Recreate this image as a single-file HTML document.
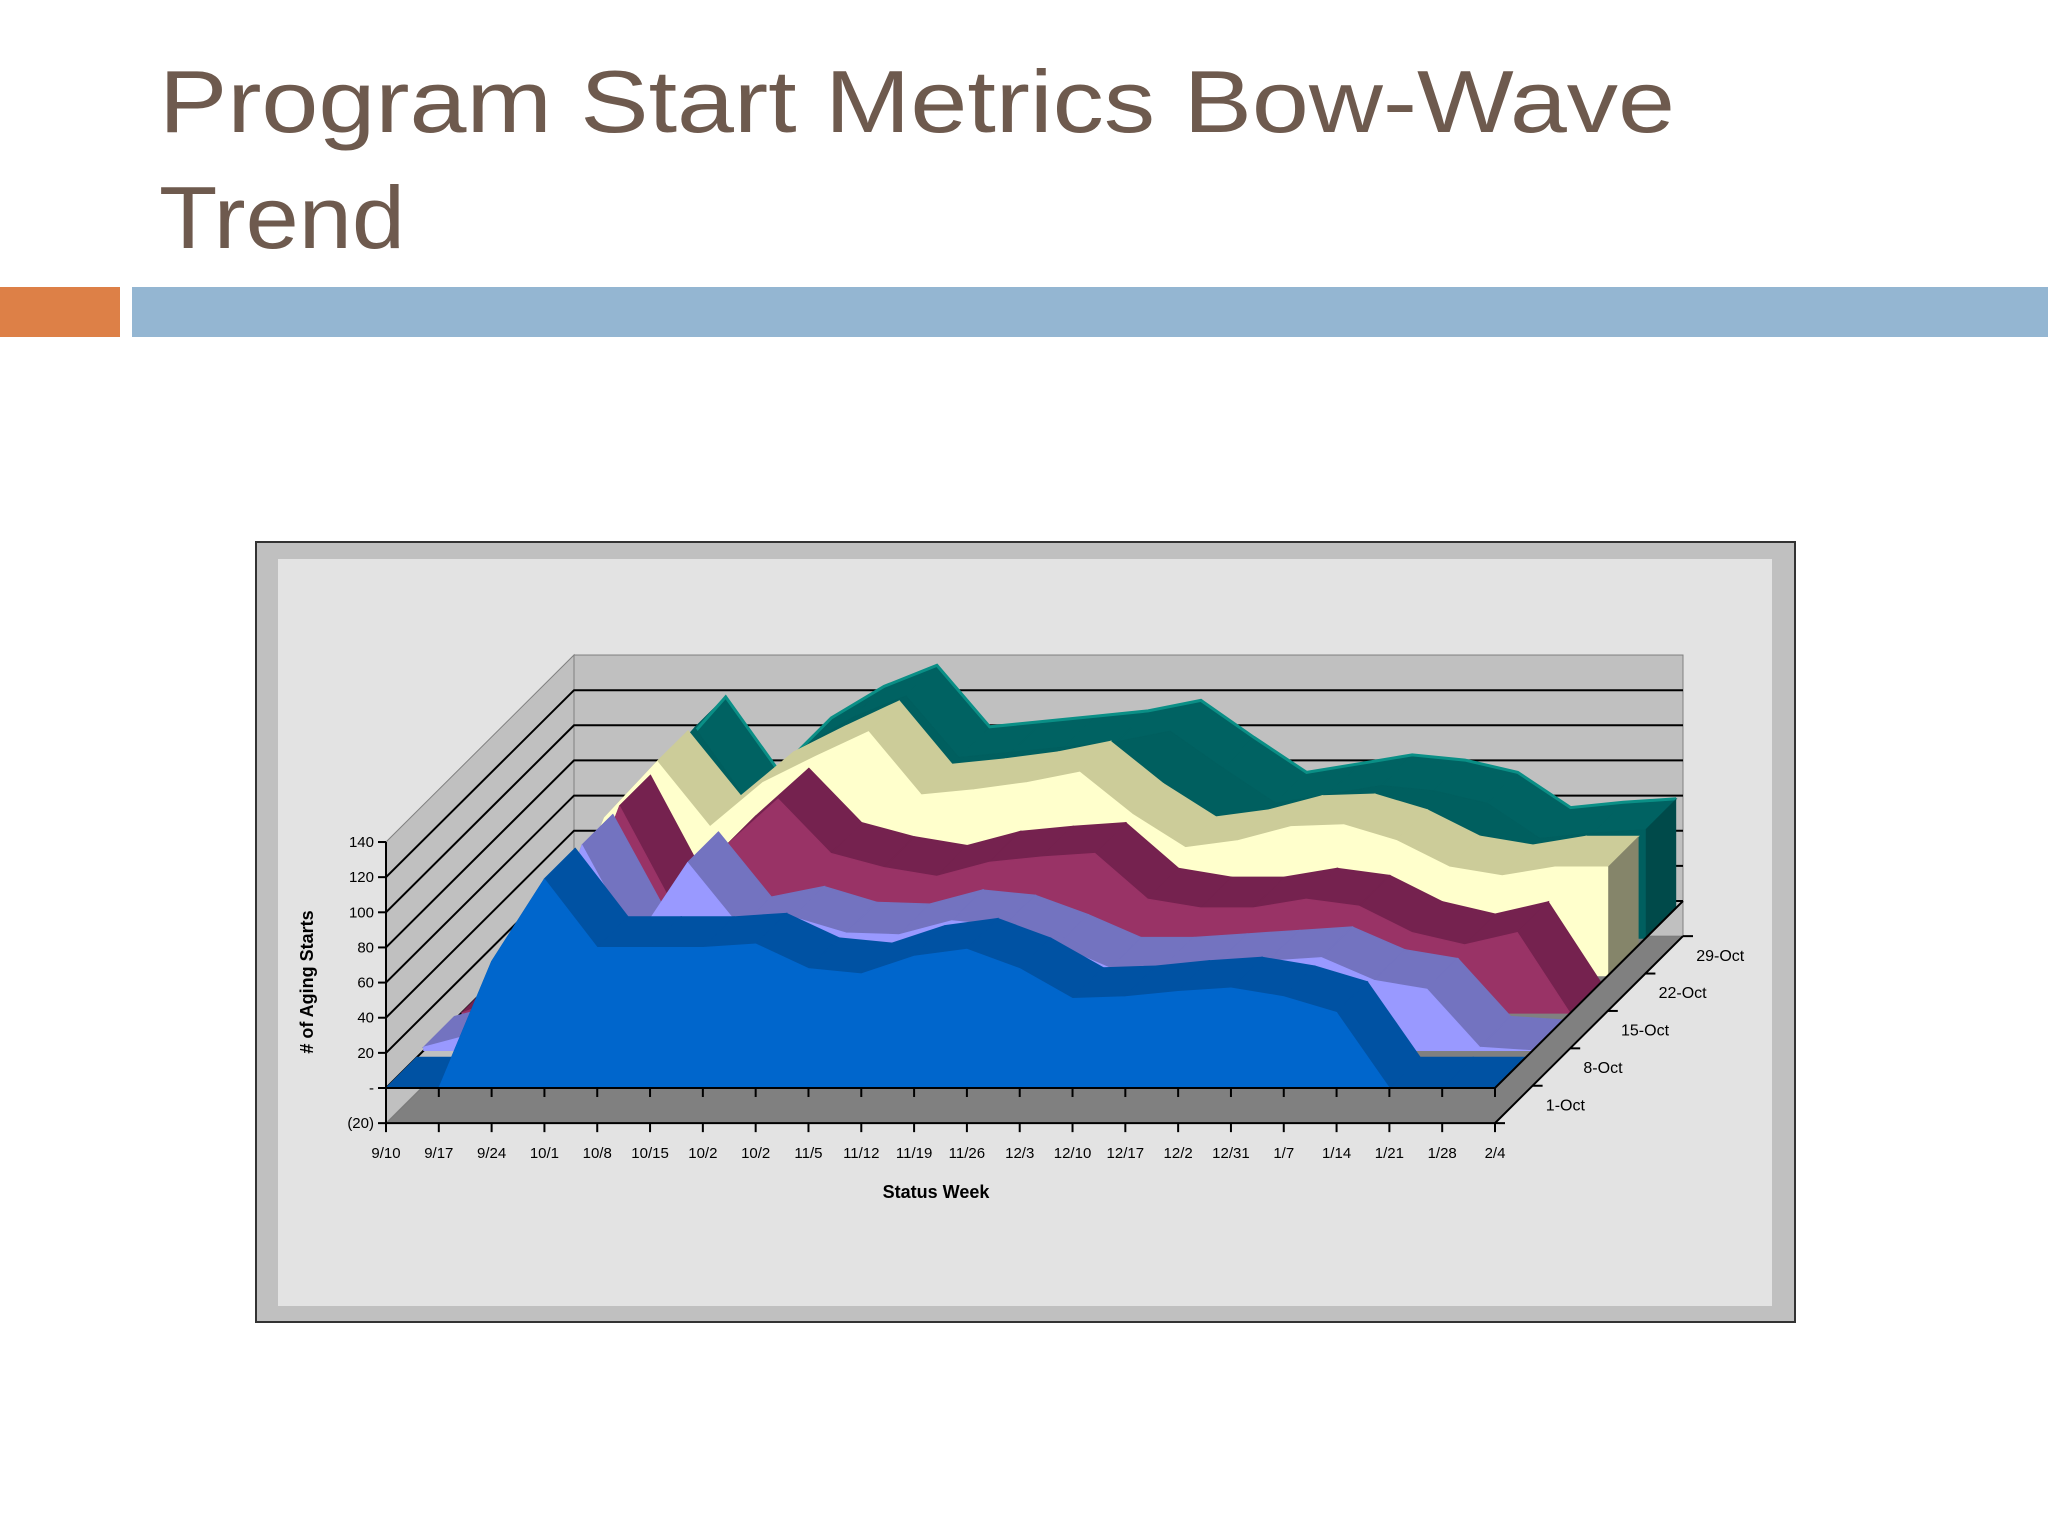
<!DOCTYPE html>
<html><head><meta charset="utf-8"><style>
body{margin:0;background:#fff}
svg{display:block}
text{font-family:"Liberation Sans",sans-serif}
</style></head><body>
<svg id="chart" width="2048" height="1536" viewBox="0 0 2048 1536" xmlns="http://www.w3.org/2000/svg">
<rect width="2048" height="1536" fill="#ffffff"/>
<text x="159" y="132" font-size="88" fill="#6e5a4e" textLength="1516" lengthAdjust="spacingAndGlyphs">Program Start Metrics Bow-Wave</text>
<text x="159" y="248" font-size="88" fill="#6e5a4e" textLength="246" lengthAdjust="spacingAndGlyphs">Trend</text>
<rect x="0" y="287" width="120" height="50" fill="#dd8047"/>
<rect x="132" y="287" width="1916" height="50" fill="#94b6d2"/>
<rect x="256" y="542" width="1539" height="780" fill="#c0c0c0" stroke="#333" stroke-width="2"/>
<rect x="278" y="559" width="1494" height="747" fill="#e3e3e3"/>
<g id="plot"></g>
</svg>
<script>
const categories = ["9/10","9/17","9/24","10/1","10/8","10/15","10/2","10/2","11/5","11/12","11/19","11/26","12/3","12/10","12/17","12/2","12/31","1/7","1/14","1/21","1/28","2/4"];
const seriesNames = ["1-Oct","8-Oct","15-Oct","22-Oct","29-Oct"];
const s1Oct = [0,0,72,119,80,80,80,82,68,65,75,79,68,51,52,55,57,52,43,0,0,0];
const s8Oct = [2,10,30,117,62,107,70,76,67,66,74,71,60,47,47,49,51,53,40,35,2,0];
const s15Oct = [0,12,40,118,62,95,122,91,83,78,86,89,91,65,60,60,65,61,46,39,46,0];
const s22Oct = [0,15,90,122,85,110,125,139,103,106,110,116,92,73,77,85,86,77,62,57,62,62];
const s29Oct = [0,14,86,120,78,108,126,138,103,106,109,112,118,97,77,82,87,84,77,57,60,62];
const yTickValues = [140,120,100,80,60,40,20,0,-20];
const yTickLabels = ["140","120","100","80","60","40","20","-","(20)"];

const NS = "http://www.w3.org/2000/svg";
const plot = document.getElementById("plot");
const X0 = 386, XSTEP = (1495-386)/(categories.length-1), Y0 = 1088, YS = 1.757, DX = 37.6, DY = 37.4, RD = 0.82;
function X(i,k){return X0 + XSTEP*i + k*DX;}
function Y(v,k){return Y0 - v*YS - k*DY;}
function el(tag, attrs){const e=document.createElementNS(NS,tag);for(const a in attrs)e.setAttribute(a,attrs[a]);plot.appendChild(e);return e;}
function pts(a){return a.map(p=>p[0].toFixed(1)+","+p[1].toFixed(1)).join(" ");}

const backK = 5;
let e;
e = el("polygon",{points:pts([[X(0,0),Y(-20,0)],[X(21,0),Y(-20,0)],[X(21,backK),Y(-20,backK)],[X(0,backK),Y(-20,backK)]]),fill:"#808080",stroke:"#606060"});


e = el("polygon",{points:pts([[X(0,0),Y(-20,0)],[X(0,0),Y(140,0)],[X(0,backK),Y(140,backK)],[X(0,backK),Y(-20,backK)]]),fill:"#c0c0c0",stroke:"#808080"});


e = el("rect",{x:X(0,backK),y:Y(140,backK),width:X(21,0)-X(0,0),height:160*YS,fill:"#c0c0c0",stroke:"#808080"});


for(const v of yTickValues){
  if(v<=-20||v>=140) continue;
  e = el("polyline",{points:pts([[X(0,0),Y(v,0)],[X(0,backK),Y(v,backK)],[X(21,backK),Y(v,backK)]]),fill:"none",stroke:"#000",'stroke-width':2});
  
  
}

const series = [s1Oct,s8Oct,s15Oct,s22Oct,s29Oct];
const faceC = ["#0066cc","#9999ff","#993366","#ffffcc","#005f5f"];
const topC = ["#0052a3","#7373c0","#75224f","#cccc99","#006262"];
const sideC = ["#003f7f","#5c5c9e","#5a1a3d","#85856a","#004a4a"];
const names = ["series-1-oct","series-8-oct","series-15-oct","series-22-oct","series-29-oct"];
for(let k=4;k>=0;k--){
  const v = series[k];
  const n = v.length;
  for(let i=0;i<n-1;i++){
    e = el("polygon",{points:pts([[X(i,k),Y(v[i],k)],[X(i+1,k),Y(v[i+1],k)],[X(i+1,k+RD),Y(v[i+1],k+RD)],[X(i,k+RD),Y(v[i],k+RD)]]),fill:topC[k],stroke:topC[k],'stroke-width':1});
    
    
  }
  if(k===4){
    const back=[];for(let i=0;i<n;i++)back.push([X(i,k+RD),Y(v[i],k+RD)]);
    e = el("polyline",{points:pts(back),fill:"none",stroke:"#0a8f86",'stroke-width':3});
    
    
  }
  e = el("polygon",{points:pts([[X(n-1,k),Y(0,k)],[X(n-1,k),Y(v[n-1],k)],[X(n-1,k+RD),Y(v[n-1],k+RD)],[X(n-1,k+RD),Y(0,k+RD)]]),fill:sideC[k]});
  
  
  const f=[[X(0,k),Y(0,k)]];
  for(let i=0;i<n;i++)f.push([X(i,k),Y(v[i],k)]);
  f.push([X(n-1,k),Y(0,k)]);
  e = el("polygon",{points:pts(f),fill:faceC[k],stroke:faceC[k],'stroke-width':0.8});
  
  
}

e = el("line",{x1:X(0,0),y1:Y(-20,0),x2:X(0,0),y2:Y(140,0),stroke:"#000",'stroke-width':2});


for(let t=0;t<yTickValues.length;t++){
  const yy=Y(yTickValues[t],0);
  e = el("line",{x1:X(0,0)-8,y1:yy,x2:X(0,0),y2:yy,stroke:"#000",'stroke-width':2});
  
  
  e = el("text",{x:X(0,0)-12,y:yy+5,'font-size':15,'text-anchor':'end',fill:"#000"});
  e.textContent=yTickLabels[t];
  
  
}
for(const lv of [0,-20]){
  e = el("polyline",{points:pts([[X(0,0),Y(lv,0)],[X(21,0),Y(lv,0)],[X(21,backK),Y(lv,backK)]]),fill:"none",stroke:"#000",'stroke-width':2});
  
  
}
for(let i=0;i<categories.length;i++){
  for(const lv of [0,-20]){
    e = el("line",{x1:X(i,0),y1:Y(lv,0),x2:X(i,0),y2:Y(lv,0)+9,stroke:"#000",'stroke-width':2});
    
    
  }
  e = el("text",{x:X(i,0),y:1158,'font-size':15,'text-anchor':'middle',fill:"#000"});
  e.textContent=categories[i];
  
  
}
for(let k=0;k<=5;k++){
  e = el("line",{x1:X(21,k),y1:Y(-20,k),x2:X(21,k)+10,y2:Y(-20,k),stroke:"#000",'stroke-width':2});
  
  
}
for(let k=0;k<seriesNames.length;k++){
  e = el("text",{x:X(21,k+0.5)+32,y:Y(-20,k+0.5)+6,'font-size':16,fill:"#000"});
  e.textContent=seriesNames[k];
  
  
}
e = el("text",{x:0,y:0,'font-size':18,'font-weight':'bold','text-anchor':'middle',fill:"#000",transform:"translate(313,982) rotate(-90)"});
e.textContent="# of Aging Starts";


e = el("text",{x:936,y:1198,'font-size':18,'font-weight':'bold','text-anchor':'middle',fill:"#000"});
e.textContent="Status Week";


</script>
</body></html>
